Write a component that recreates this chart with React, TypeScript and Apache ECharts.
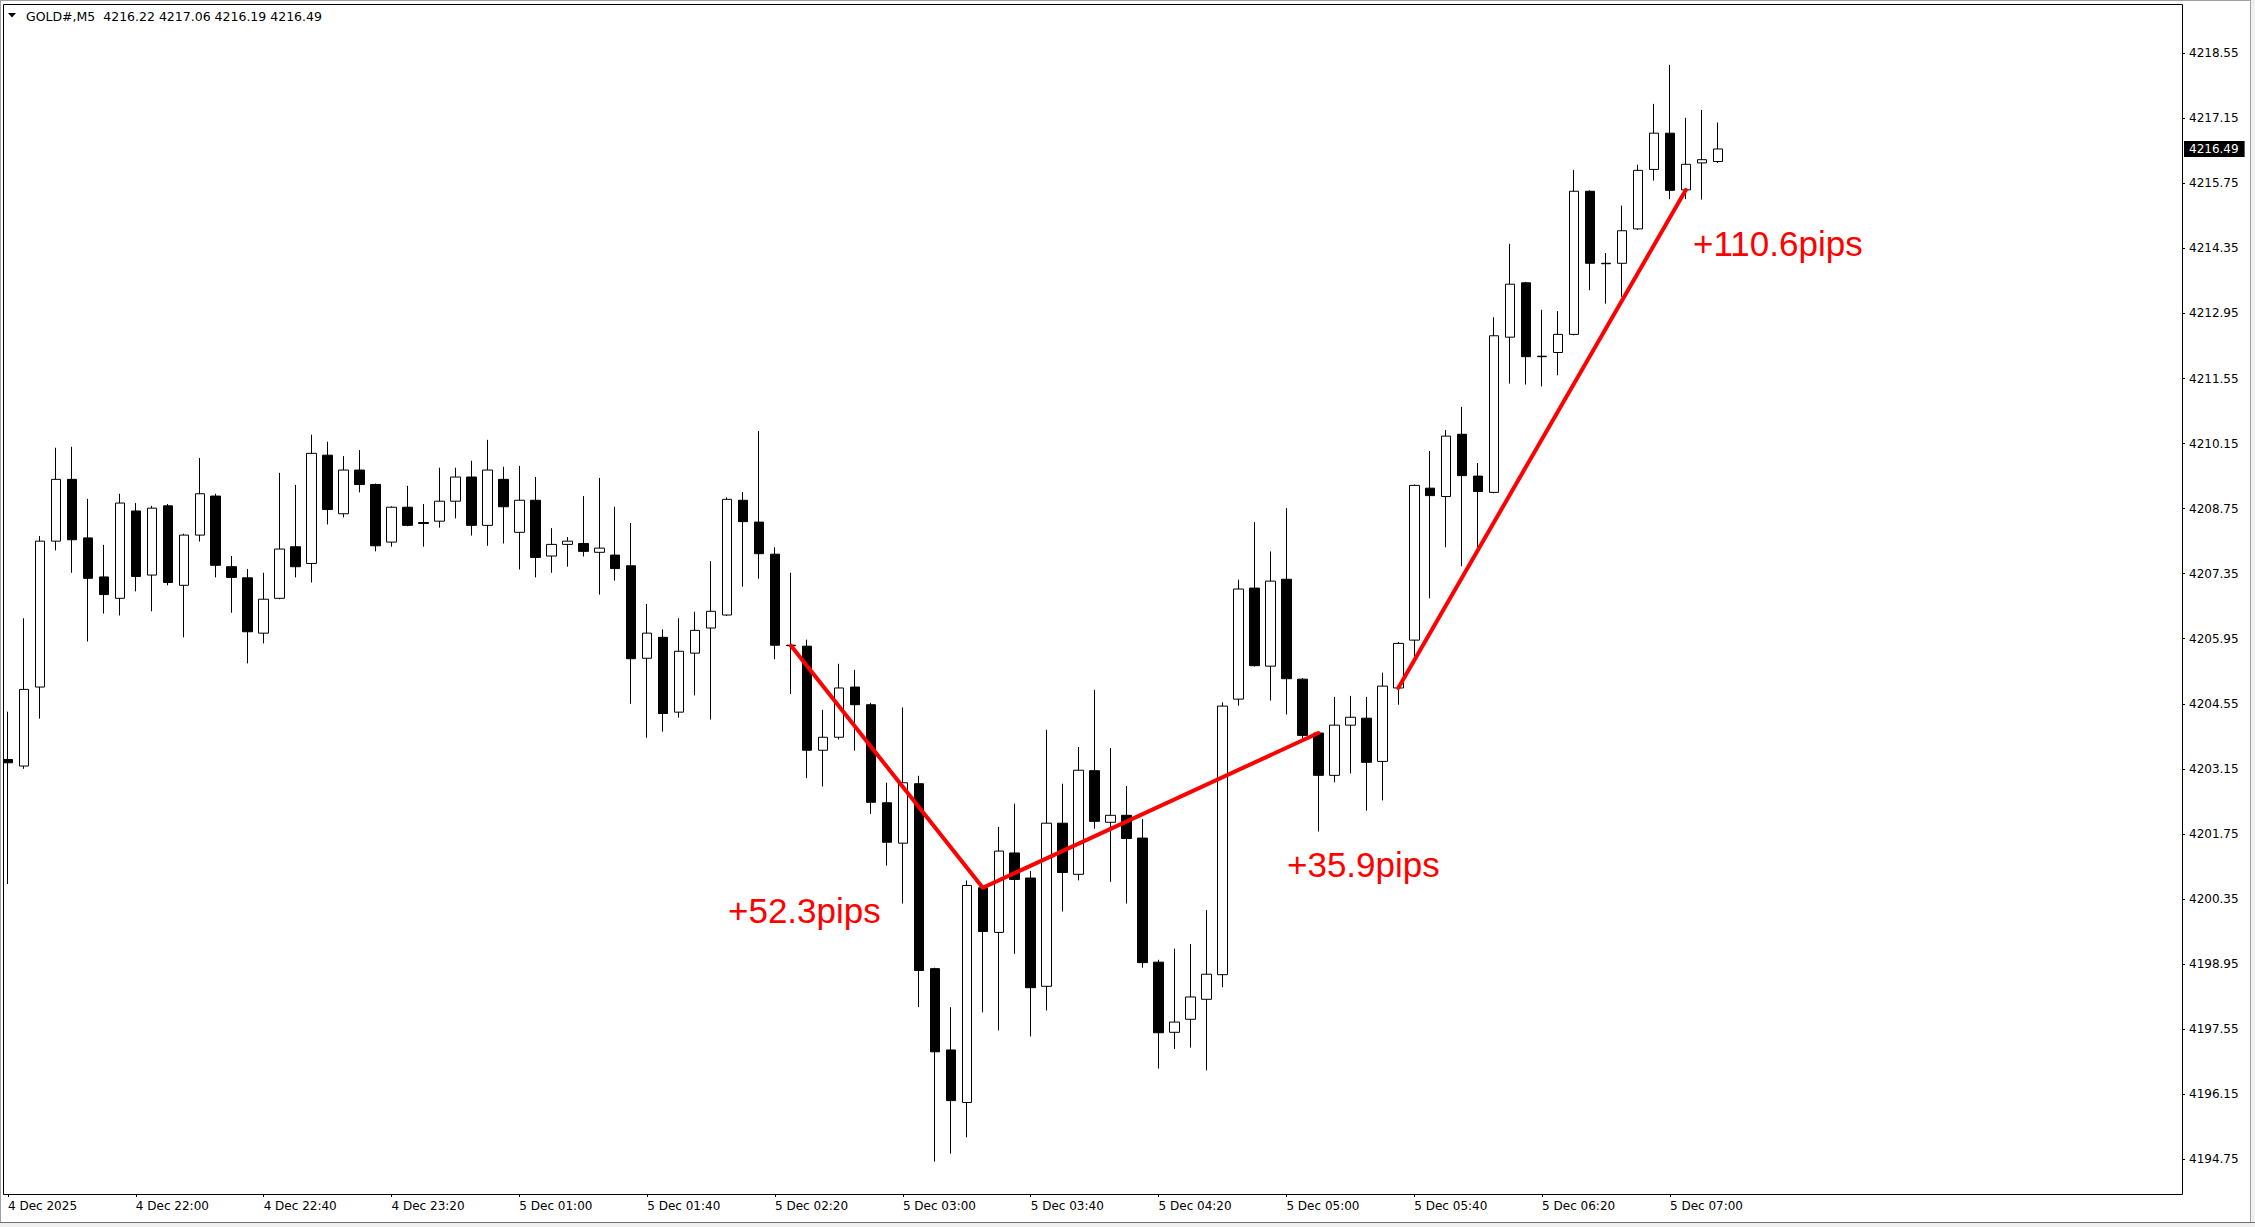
import React, { useEffect, useRef } from "react";
import * as echarts from "echarts";

const TITLE = "GOLD#,M5  4216.22 4217.06 4216.19 4216.49";

// trading sessions (5-minute bars)
const SESSION_DAYS = ["4 Dec", "5 Dec"];
const SESSION_STARTS = ["21:20", "01:00"];
const SESSION_COUNTS = [32, 76];
const FIRST_LABEL = "4 Dec 2025";

const OPEN = [
  4203.35, 4203.21, 4204.91, 4208.05, 4209.38, 4208.12, 4207.28, 4206.82, 4208.70, 4207.32,
  4208.81, 4207.10, 4208.18, 4209.02, 4207.50, 4207.26, 4206.07, 4206.82, 4207.93, 4207.57,
  4209.90, 4208.64, 4209.58, 4209.27, 4208.03, 4208.78, 4208.45, 4208.48, 4208.91, 4209.43,
  4208.39, 4209.38, 4208.24, 4208.93, 4207.73, 4207.98, 4208.00, 4207.81, 4207.75, 4207.52,
  4205.53, 4205.98, 4204.37, 4205.64, 4206.18, 4206.46, 4208.93, 4208.46, 4207.77, 4205.81,
  4205.79, 4203.55, 4203.83, 4204.91, 4204.53, 4202.42, 4201.55, 4202.83, 4198.85, 4197.10,
  4195.97, 4200.59, 4199.63, 4201.34, 4200.80, 4198.47, 4201.98, 4200.88, 4203.11, 4202.00,
  4202.15, 4201.66, 4198.99, 4197.48, 4197.76, 4198.19, 4198.72, 4204.65, 4207.04, 4205.36,
  4207.23, 4205.08, 4203.92, 4203.01, 4204.09, 4204.24, 4203.31, 4204.89, 4205.92, 4209.19,
  4209.01, 4210.35, 4209.45, 4209.10, 4212.44, 4213.61, 4212.03, 4212.11, 4212.50, 4215.58,
  4214.03, 4214.03, 4214.77, 4216.05, 4216.83, 4215.61, 4216.19, 4216.22,
];
const HIGH = [
  4204.38, 4206.39, 4208.16, 4210.06, 4210.08, 4208.96, 4207.97, 4209.07, 4208.87, 4208.81,
  4208.85, 4208.21, 4209.84, 4209.07, 4207.73, 4207.45, 4207.37, 4209.52, 4209.26, 4210.34,
  4210.19, 4209.88, 4210.01, 4209.29, 4208.80, 4209.24, 4208.85, 4209.63, 4209.63, 4209.78,
  4210.23, 4209.65, 4209.67, 4209.43, 4208.33, 4208.14, 4209.02, 4209.41, 4208.79, 4208.44,
  4206.70, 4206.15, 4206.39, 4206.53, 4207.62, 4208.99, 4209.11, 4210.42, 4207.92, 4207.37,
  4205.93, 4204.42, 4205.41, 4205.28, 4204.57, 4202.85, 4204.47, 4203.00, 4198.87, 4198.02,
  4200.75, 4200.62, 4201.90, 4202.40, 4200.95, 4203.99, 4202.83, 4203.62, 4204.85, 4203.60,
  4202.78, 4202.07, 4199.04, 4199.28, 4199.38, 4200.11, 4204.58, 4207.22, 4208.46, 4207.83,
  4208.76, 4205.10, 4203.94, 4204.70, 4204.72, 4204.70, 4205.22, 4205.88, 4209.27, 4209.99,
  4210.44, 4210.94, 4209.73, 4212.87, 4214.45, 4213.63, 4213.03, 4213.00, 4216.04, 4215.60,
  4214.25, 4215.27, 4216.15, 4217.46, 4218.30, 4217.16, 4217.33, 4217.06,
];
const LOW = [
  4200.67, 4203.15, 4204.23, 4207.85, 4207.37, 4205.89, 4206.49, 4206.45, 4206.97, 4206.54,
  4207.10, 4205.98, 4208.04, 4207.27, 4206.51, 4205.42, 4205.85, 4206.80, 4207.27, 4207.16,
  4208.41, 4208.56, 4209.10, 4207.83, 4207.93, 4208.37, 4207.93, 4208.34, 4208.54, 4208.17,
  4207.95, 4208.00, 4207.44, 4207.27, 4207.37, 4207.50, 4207.72, 4206.90, 4207.20, 4204.55,
  4203.82, 4203.95, 4204.25, 4204.73, 4204.21, 4206.44, 4207.07, 4207.24, 4205.51, 4204.76,
  4202.95, 4202.77, 4203.78, 4203.54, 4202.18, 4201.07, 4200.25, 4198.02, 4194.70, 4194.87,
  4195.22, 4197.91, 4197.52, 4199.17, 4197.39, 4197.95, 4200.08, 4200.75, 4201.86, 4200.72,
  4200.25, 4198.87, 4196.70, 4197.12, 4197.15, 4196.66, 4198.45, 4204.51, 4205.35, 4204.62,
  4204.32, 4203.81, 4201.80, 4202.86, 4203.05, 4202.25, 4202.47, 4204.53, 4205.57, 4206.82,
  4207.92, 4207.51, 4207.92, 4209.08, 4211.44, 4211.42, 4211.38, 4211.62, 4212.48, 4213.45,
  4213.16, 4213.31, 4214.75, 4215.81, 4215.41, 4215.41, 4215.40, 4216.19,
];
const CLOSE = [
  4203.28, 4204.86, 4208.05, 4209.38, 4208.08, 4207.25, 4206.90, 4208.87, 4207.29, 4208.76,
  4207.16, 4208.18, 4209.07, 4207.53, 4207.27, 4206.10, 4206.80, 4207.88, 4207.50, 4209.94,
  4208.73, 4209.58, 4209.27, 4207.95, 4208.78, 4208.39, 4208.43, 4208.91, 4209.43, 4208.39,
  4209.58, 4208.79, 4208.93, 4207.70, 4207.98, 4208.05, 4207.83, 4207.90, 4207.46, 4205.52,
  4206.07, 4204.34, 4205.68, 4206.13, 4206.54, 4208.95, 4208.47, 4207.78, 4205.81, 4205.80,
  4203.55, 4203.83, 4204.89, 4204.53, 4202.43, 4201.57, 4202.85, 4198.81, 4197.06, 4196.01,
  4200.64, 4199.65, 4201.38, 4200.77, 4198.44, 4201.98, 4200.92, 4203.12, 4202.02, 4202.15,
  4201.65, 4198.98, 4197.47, 4197.70, 4198.24, 4198.73, 4204.50, 4207.02, 4205.37, 4207.19,
  4205.09, 4203.87, 4203.01, 4204.09, 4204.26, 4203.29, 4204.93, 4205.85, 4209.25, 4209.03,
  4210.31, 4209.46, 4209.12, 4212.47, 4213.58, 4212.02, 4212.02, 4212.50, 4215.58, 4214.03,
  4214.02, 4214.73, 4216.03, 4216.83, 4215.60, 4216.16, 4216.26, 4216.49,
];

const PRICE_TICKS = [
  4194.75, 4196.15, 4197.55, 4198.95, 4200.35, 4201.75, 4203.15, 4204.55, 4205.95,
  4207.35, 4208.75, 4210.15, 4211.55, 4212.95, 4214.35, 4215.75, 4217.15, 4218.55,
];
const Y_MIN = 4194.0;
const Y_MAX = 4219.61;
const LAST_PRICE = 4216.49;

const TREND_A_TIMES = ["5 Dec 02:25", "5 Dec 03:25", "5 Dec 05:10"];
const TREND_A_PRICES = [4205.8, 4200.59, 4203.92];
const TREND_B_TIMES = ["5 Dec 05:35", "5 Dec 07:05"];
const TREND_B_PRICES = [4204.89, 4215.61];

const NOTE_TEXTS = ["+52.3pips", "+35.9pips", "+110.6pips"];

const PAD_SLOTS = 29;

function buildTimes(): string[] {
  const out: string[] = [];
  SESSION_DAYS.forEach((day, s) => {
    const [h, m] = SESSION_STARTS[s].split(":").map(Number);
    for (let k = 0; k < SESSION_COUNTS[s]; k++) {
      const t = h * 60 + m + 5 * k;
      const hh = String(Math.floor(t / 60)).padStart(2, "0");
      const mm = String(t % 60).padStart(2, "0");
      out.push(`${day} ${hh}:${mm}`);
    }
  });
  return out;
}

export default function App() {
  const ref = useRef<HTMLDivElement>(null);
  useEffect(() => {
    if (!ref.current) return;
    const chart = echarts.init(ref.current, undefined, { renderer: "svg" });
    const times = buildTimes();
    const n = times.length;
    const cats = times.concat(Array.from({ length: PAD_SLOTS }, (_, k) => `__pad${k}`));
    const candles = OPEN.map((o, i) => [o, CLOSE[i], LOW[i], HIGH[i]]);
    const trendA = TREND_A_TIMES.map((t, i) => [times.indexOf(t), TREND_A_PRICES[i]]);
    const trendB = TREND_B_TIMES.map((t, i) => [times.indexOf(t), TREND_B_PRICES[i]]);
    const font = "DejaVu Sans";
    const redLine = { color: "#ff0000", width: 4, cap: "round", join: "round" };
    const noteFont = '35px "Liberation Sans", Arial, sans-serif';

    chart.setOption({
      animation: false,
      backgroundColor: "#ffffff",
      grid: { left: -2.7, right: 65.7, top: 4, bottom: 33, containLabel: false },
      xAxis: {
        type: "category",
        data: cats,
        boundaryGap: true,
        axisLine: { show: false },
        axisTick: {
          show: true,
          alignWithLabel: true,
          length: 3,
          interval: (idx: number) => idx % 8 === 0 && idx < n,
          lineStyle: { color: "#000", width: 1 },
        },
        axisLabel: {
          interval: (idx: number) => idx % 8 === 0 && idx < n,
          align: "left",
          margin: 6,
          color: "#000",
          fontFamily: font,
          fontSize: 12,
          formatter: (v: string, idx: number) => (idx === 0 ? FIRST_LABEL : idx < n ? v : ""),
        },
        splitLine: { show: false },
      },
      yAxis: [
        {
          type: "value",
          position: "right",
          min: Y_MIN,
          max: Y_MAX,
          offset: -7.3,
          axisLine: { show: false },
          axisTick: { show: true, length: 3, customValues: PRICE_TICKS, lineStyle: { color: "#000" } },
          axisLabel: {
            customValues: PRICE_TICKS,
            margin: 7,
            color: "#000",
            fontFamily: font,
            fontSize: 12,
            formatter: (v: number) => v.toFixed(2),
          },
          splitLine: { show: false },
        },
        {
          type: "value",
          position: "right",
          min: Y_MIN,
          max: Y_MAX,
          offset: -7.3,
          axisLine: { show: false },
          axisTick: { show: false },
          axisLabel: {
            customValues: [LAST_PRICE],
            margin: 2,
            color: "#fff",
            backgroundColor: "#000",
            padding: [2, 6, 2, 5],
            lineHeight: 12,
            fontFamily: font,
            fontSize: 12,
            formatter: (v: number) => v.toFixed(2),
          },
          splitLine: { show: false },
        },
      ],
      series: [
        {
          type: "candlestick",
          data: candles,
          barWidth: 10,
          itemStyle: {
            color: "#ffffff",
            color0: "#000000",
            borderColor: "#000000",
            borderColor0: "#000000",
            borderWidth: 1,
          },
          z: 2,
        },
        {
          type: "line",
          data: trendA,
          symbol: "none",
          lineStyle: redLine,
          z: 5,
        },
        {
          type: "line",
          data: trendB,
          symbol: "none",
          lineStyle: redLine,
          z: 5,
        },
      ],
      graphic: [
        { type: "rect", z: 100, shape: { x: 0, y: 0, width: 3.5, height: 1227 }, style: { fill: "#fff" } },
        { type: "rect", z: 101, shape: { x: 0, y: 0, width: 2255, height: 1 }, style: { fill: "#a0a0a0" } },
        { type: "rect", z: 101, shape: { x: 0, y: 0, width: 1, height: 1227 }, style: { fill: "#a0a0a0" } },
        { type: "rect", z: 101, shape: { x: 2250, y: 0, width: 5, height: 1227 }, style: { fill: "#f0f0f0" } },
        { type: "rect", z: 101, shape: { x: 2250, y: 0, width: 1, height: 1227 }, style: { fill: "#a0a0a0" } },
        { type: "rect", z: 101, shape: { x: 0, y: 1222, width: 2255, height: 5 }, style: { fill: "#f0f0f0" } },
        { type: "rect", z: 101, shape: { x: 0, y: 1222, width: 2255, height: 1 }, style: { fill: "#707070" } },
        {
          type: "rect",
          z: 102,
          shape: { x: 3.5, y: 4.5, width: 2179, height: 1190 },
          style: { fill: "none", stroke: "#000", lineWidth: 1 },
        },
        {
          type: "polygon",
          z: 103,
          shape: { points: [[8, 13], [16, 13], [12, 17.5]] },
          style: { fill: "#000" },
        },
        {
          type: "text",
          z: 103,
          x: 26,
          y: 16,
          style: { text: TITLE, fill: "#000", font: `12.5px "${font}"`, align: "left", verticalAlign: "middle" },
        },
        {
          type: "text",
          z: 103,
          x: 728,
          y: 910,
          style: { text: NOTE_TEXTS[0], fill: "#ff0000", font: noteFont, align: "left", verticalAlign: "middle" },
        },
        {
          type: "text",
          z: 103,
          x: 1287,
          y: 864,
          style: { text: NOTE_TEXTS[1], fill: "#ff0000", font: noteFont, align: "left", verticalAlign: "middle" },
        },
        {
          type: "text",
          z: 103,
          x: 1693,
          y: 243,
          style: { text: NOTE_TEXTS[2], fill: "#ff0000", font: noteFont, align: "left", verticalAlign: "middle" },
        },
      ],
    });
    return () => chart.dispose();
  }, []);
  return (
    <div
      ref={ref}
      style={{ position: "fixed", left: 0, top: 0, width: 2255, height: 1227, background: "#fff" }}
    />
  );
}
